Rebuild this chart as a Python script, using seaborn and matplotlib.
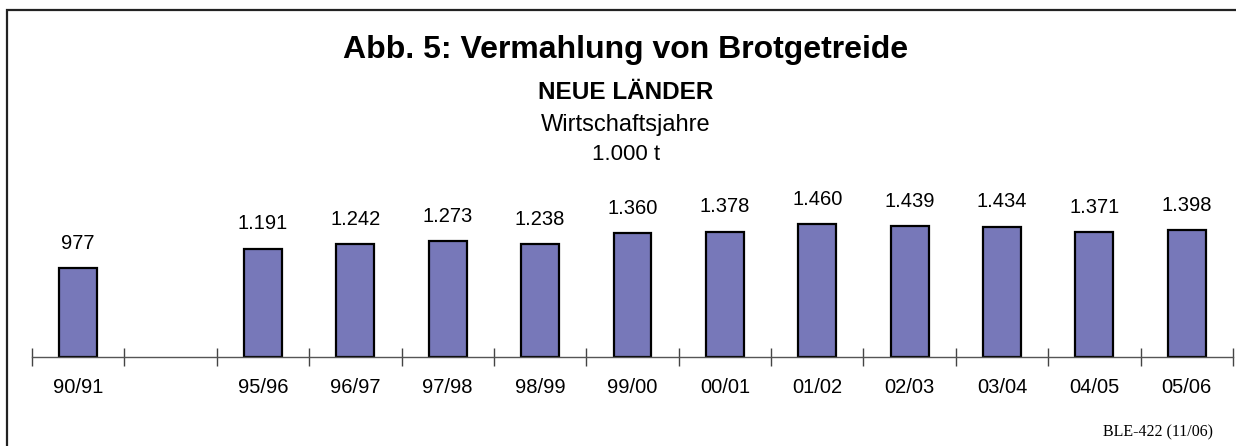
import pandas as pd
import matplotlib.pyplot as plt
from matplotlib.patches import Rectangle
import seaborn as sns

# Wirtschaftsjahre, one empty slot for the gap 91/92 - 94/95
slots = ["90/91", "-", "95/96", "96/97", "97/98", "98/99", "99/00",
         "00/01", "01/02", "02/03", "03/04", "04/05", "05/06"]
years = ["90/91", "95/96", "96/97", "97/98", "98/99", "99/00",
         "00/01", "01/02", "02/03", "03/04", "04/05", "05/06"]
mengen = [977, 1191, 1242, 1273, 1238, 1360, 1378, 1460, 1439, 1434, 1371, 1398]

df = pd.DataFrame({"Jahr": years, "Menge": mengen})

sns.set_style("white")
plt.rcParams['font.family'] = ['Liberation Sans', 'DejaVu Sans']
plt.rcParams['text.color'] = 'black'
plt.rcParams['xtick.color'] = 'black'

fig = plt.figure(figsize=(12.36, 4.46), dpi=100)
ax = fig.add_axes([32 / 1236, 89 / 446, 1201 / 1236, 182 / 446])

sns.barplot(data=df, x="Jahr", y="Menge", order=slots, color="#7778b9",
            saturation=1, width=0.41, edgecolor="black", linewidth=1.6, ax=ax)

for i, jahr in enumerate(slots):
    if jahr in years:
        v = mengen[years.index(jahr)]
        txt = f"{v:,}".replace(",", ".")
        ax.annotate(txt, (i, v), xytext=(0, 11), textcoords="offset points",
                    ha="center", va="bottom", fontsize=14.5, color="black")

ax.set_xlim(-0.5, len(slots) - 0.5)
ax.set_ylim(0, 2000)
ax.set_xticks(range(len(slots)))
ax.set_xticklabels([s if s != "-" else "" for s in slots], fontsize=14.5)
ax.set_xticks([i - 0.5 for i in range(len(slots) + 1)], minor=True)
ax.tick_params(axis="x", which="major", length=0, pad=15, labelcolor="black")
ax.tick_params(axis="x", which="minor", direction="inout", length=13,
               width=1, color="#444444", bottom=True)
ax.set_yticks([])
ax.set_xlabel("")
ax.set_ylabel("")
for side in ["top", "right", "left"]:
    ax.spines[side].set_visible(False)
ax.spines["bottom"].set_color("#555555")
ax.spines["bottom"].set_linewidth(1)

cx = 626 / 1236
fig.text(cx, 1 - 58 / 446, "Abb. 5: Vermahlung von Brotgetreide",
         ha="center", va="baseline", fontsize=23, fontweight="bold")
fig.text(cx, 1 - 99 / 446, "NEUE LÄNDER", ha="center", va="baseline",
         fontsize=17.5, fontweight="bold")
fig.text(cx, 1 - 131 / 446, "Wirtschaftsjahre", ha="center", va="baseline",
         fontsize=17)
fig.text(cx, 1 - 160 / 446, "1.000 t", ha="center", va="baseline",
         fontsize=16)
fig.text(1213 / 1236, 1 - 432 / 446, "BLE-422 (11/06)", ha="right",
         va="center", fontsize=11.5, family=["Liberation Serif"])

fig.patches.append(Rectangle((7 / 1236, -0.1), 1.2, 1 - 10 / 446 + 0.1,
                             transform=fig.transFigure, fill=False,
                             edgecolor="#222222", linewidth=1.6))

fig.savefig("out.png", dpi=100)
